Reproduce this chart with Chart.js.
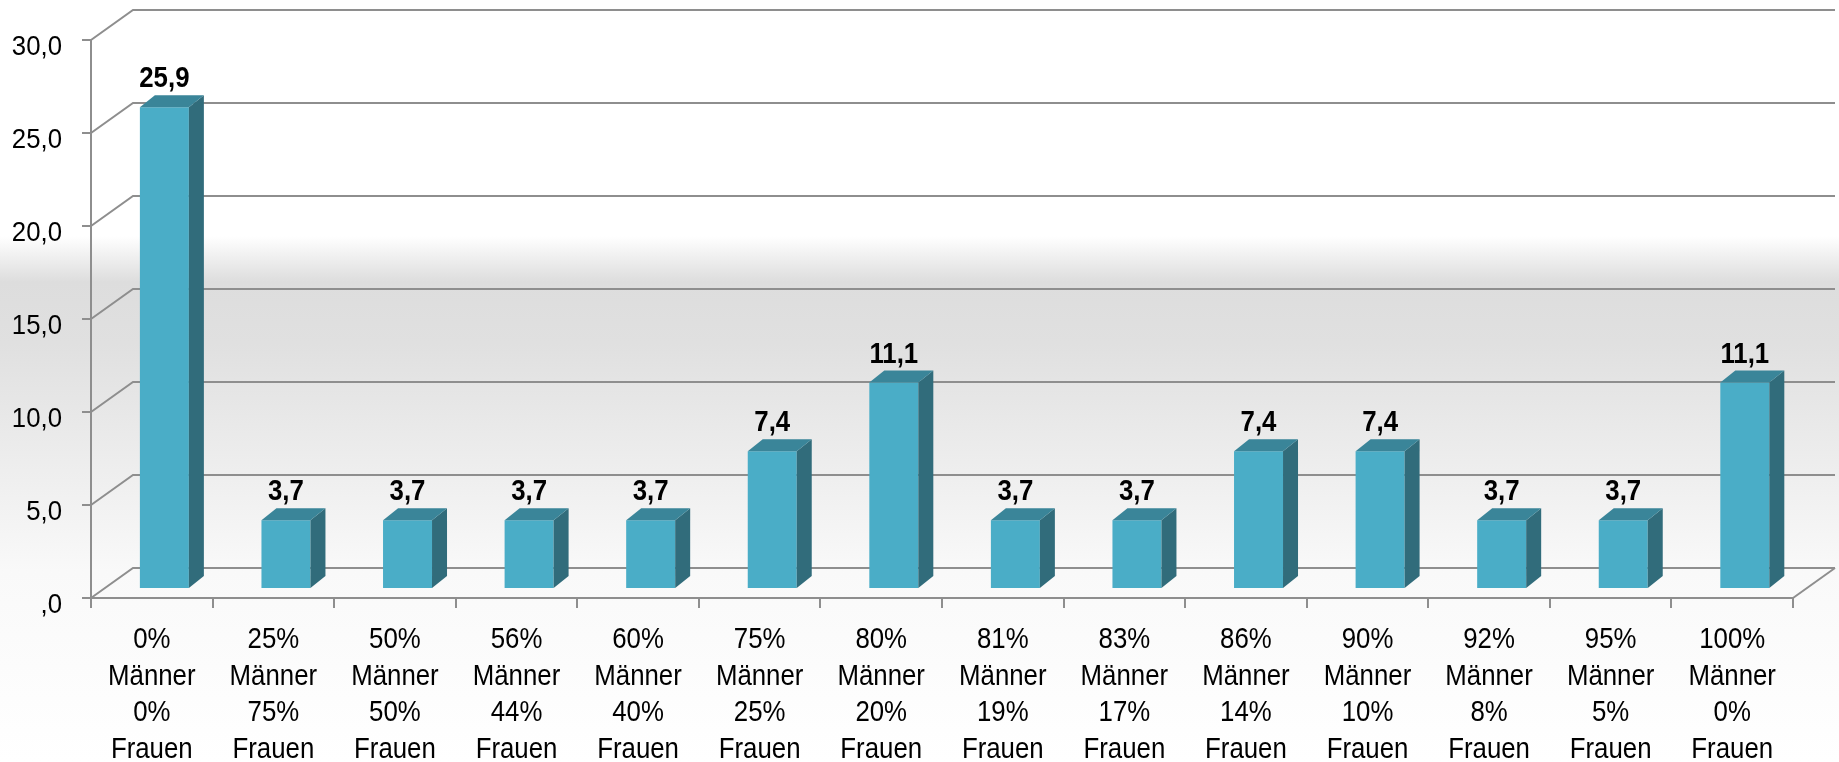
<!DOCTYPE html>
<html>
<head>
<meta charset="utf-8">
<script src="https://cdn.jsdelivr.net/npm/chart.js@4/dist/chart.umd.min.js"></script>
<style>
  html, body { margin: 0; padding: 0; background: #fff; }
  #wrap { width: 1839px; height: 762px; }
</style>
</head>
<body>
<div id="wrap"><canvas id="chart" width="1839" height="762"></canvas></div>
<script>
const maenner = ['0%', '25%', '50%', '56%', '60%', '75%', '80%', '81%', '83%', '86%', '90%', '92%', '95%', '100%'];
const frauen = ['0%', '75%', '50%', '44%', '40%', '25%', '20%', '19%', '17%', '14%', '10%', '8%', '5%', '0%'];
const werte = [25.9, 3.7, 3.7, 3.7, 3.7, 7.4, 11.1, 3.7, 3.7, 7.4, 7.4, 3.7, 3.7, 11.1];
const yTicks = [',0', '5,0', '10,0', '15,0', '20,0', '25,0', '30,0'];

const labels = maenner.map((m, i) => [m, 'Männer', frauen[i], 'Frauen']);
const fmt = v => v.toFixed(1).replace('.', ',');

const FONT = "'Liberation Sans', Arial, sans-serif";
const lineCol = '#8e8e8e';
const colFront = '#4aadc7', colTop = '#3a8599', colSide = '#316c7b';

// Tiefe der Rückwand und der Säulen
const wall = { dx: 42, dy: -30 };
const shift = { dx: 12.6, dy: -9 };
const depth = { dx: 15, dy: -12 };

// schmale Schrift (Arial Narrow gibt es hier nicht) -> horizontal stauchen
function narrowText(ctx, text, x, y, font, sx, align) {
  ctx.save();
  ctx.translate(x, y);
  ctx.scale(sx, 1);
  ctx.font = font;
  ctx.fillStyle = '#000';
  ctx.textAlign = align;
  ctx.textBaseline = 'alphabetic';
  ctx.fillText(text, 0, 0);
  ctx.restore();
}

const bg = {
  id: 'bg',
  beforeDraw(chart) {
    const { ctx, width, height } = chart;
    const g = ctx.createLinearGradient(0, 0, 0, height);
    g.addColorStop(0, '#ffffff');
    g.addColorStop(0.31, '#ffffff');
    g.addColorStop(0.37, '#dddddd');
    g.addColorStop(0.45, '#e0e0e0');
    g.addColorStop(0.75, '#f9f9f9');
    g.addColorStop(1, '#ffffff');
    ctx.save();
    ctx.fillStyle = g;
    ctx.fillRect(0, 0, width, height);
    ctx.restore();
  }
};

const axisText = {
  id: 'axisText',
  afterDraw(chart) {
    const { ctx, chartArea: a, scales: { x, y } } = chart;
    y.ticks.forEach((t, i) => {
      narrowText(ctx, yTicks[i], a.left - 29, y.getPixelForValue(t.value) + 15, `28px ${FONT}`, 0.92, 'right');
    });
    chart.data.labels.forEach((lines, i) => {
      const px = x.getPixelForTick(i);
      lines.forEach((s, k) => {
        narrowText(ctx, s, px, a.bottom + 50 + k * 36.7, `30px ${FONT}`, 0.86, 'center');
      });
    });
  }
};

const box3d = {
  id: 'box3d',
  beforeDatasetsDraw(chart) {
    const { ctx, chartArea: a, scales: { y } } = chart;
    ctx.save();
    ctx.strokeStyle = lineCol;
    ctx.lineWidth = 2;
    y.ticks.forEach(t => {
      const py = y.getPixelForValue(t.value);
      ctx.beginPath();
      ctx.moveTo(a.left, py);
      ctx.lineTo(a.left + wall.dx, py + wall.dy);
      ctx.lineTo(a.right + wall.dx, py + wall.dy);
      ctx.stroke();
    });
    ctx.beginPath();
    ctx.moveTo(a.right, a.bottom);
    ctx.lineTo(a.right + wall.dx, a.bottom + wall.dy);
    ctx.stroke();
    ctx.restore();

    ctx.save();
    ctx.translate(shift.dx, shift.dy);
  },
  afterDatasetsDraw(chart) {
    const { ctx } = chart;
    ctx.restore();
    const meta = chart.getDatasetMeta(0);
    ctx.save();
    meta.data.forEach((el, i) => {
      const x0 = el.x - el.width / 2 + shift.dx;
      const x1 = el.x + el.width / 2 + shift.dx;
      const yt = el.y + shift.dy;
      const yb = el.base + shift.dy;
      ctx.fillStyle = colSide;
      ctx.beginPath();
      ctx.moveTo(x1, yt);
      ctx.lineTo(x1 + depth.dx, yt + depth.dy);
      ctx.lineTo(x1 + depth.dx, yb + depth.dy);
      ctx.lineTo(x1, yb);
      ctx.closePath();
      ctx.fill();
      ctx.fillStyle = colTop;
      ctx.beginPath();
      ctx.moveTo(x0, yt);
      ctx.lineTo(x0 + depth.dx, yt + depth.dy);
      ctx.lineTo(x1 + depth.dx, yt + depth.dy);
      ctx.lineTo(x1, yt);
      ctx.closePath();
      ctx.fill();

      narrowText(ctx, fmt(werte[i]), el.x + shift.dx, yt - 20, `bold 29px ${FONT}`, 0.89, 'center');
    });
    ctx.restore();
  }
};

new Chart(document.getElementById('chart'), {
  type: 'bar',
  data: {
    labels,
    datasets: [{
      data: werte,
      backgroundColor: colFront,
      borderWidth: 0,
      categoryPercentage: 1,
      barPercentage: 0.403,
      clip: false,
    }],
  },
  options: {
    responsive: false,
    animation: false,
    layout: { padding: { left: 0, top: 40, right: 46, bottom: 0 } },
    plugins: { legend: { display: false }, tooltip: { enabled: false } },
    scales: {
      x: {
        afterFit: s => { s.height = 164; },
        grid: { offset: true, drawOnChartArea: false, drawTicks: true, tickLength: 10, color: lineCol, lineWidth: 2 },
        border: { display: true, color: lineCol, width: 2 },
        ticks: { display: false, autoSkip: false, maxRotation: 0 },
      },
      y: {
        min: 0,
        max: 30,
        afterFit: s => { s.width = 91; },
        grid: { drawOnChartArea: false, drawTicks: true, tickLength: 9, color: lineCol, lineWidth: 2 },
        border: { display: true, color: lineCol, width: 2 },
        ticks: { display: false, stepSize: 5 },
      },
    },
  },
  plugins: [bg, box3d, axisText],
});
</script>
</body>
</html>
